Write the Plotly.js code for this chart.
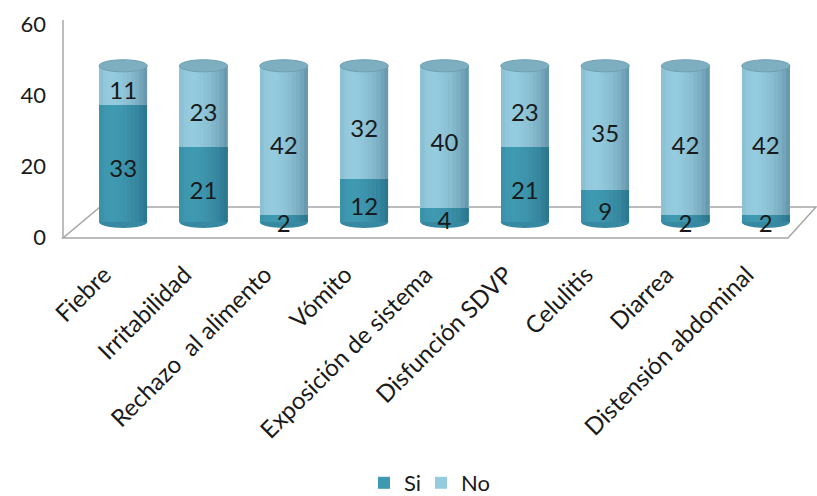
<!DOCTYPE html>
<html>
<head>
<meta charset="utf-8">
<script src="https://cdn.plot.ly/plotly-3.0.1.min.js"></script>
<style>html,body{margin:0;padding:0;background:#fff;}#chart{width:817px;height:496px;}</style>
</head>
<body>
<div id="chart"></div>
<script>
const categories = ["Fiebre", "Irritabilidad", "Rechazo  al alimento", "Vómito", "Exposición de sistema", "Disfunción SDVP", "Celulitis", "Diarrea", "Distensión abdominal"];
const siValues = [33, 21, 2, 12, 4, 21, 9, 2, 2];
const noValues = [11, 23, 42, 32, 40, 23, 35, 42, 42];
const yTicks = [0, 20, 40, 60];

const siColor = "#3F99B1";
const noColor = "#95CBDE";
const font = "Lato, 'Open Sans', sans-serif";
const txt = "#1a1a1a";

// plot geometry (pixels)
const L = 83, R = 806, T = 5, B = 245, W = 817, H = 496;
const k = 3.55; // px per unit
const rng = zeroPx => [-(B - zeroPx) / k, (zeroPx - T) / k];

const traces = [
  {type: "bar", name: "Si", x: categories, y: siValues, marker: {color: siColor}, hoverinfo: "x+y"},
  {type: "bar", name: "No", x: categories, y: noValues, marker: {color: noColor}, hoverinfo: "x+y"},
  {type: "scatter", mode: "text", x: categories, y: siValues.map(v => v / 2), yaxis: "y3",
   text: siValues.map(String), textposition: "middle center", showlegend: false,
   textfont: {family: font, size: 24, color: txt}, hoverinfo: "skip"},
  {type: "scatter", mode: "text", x: categories, y: noValues.map((v, i) => siValues[i] + v / 2), yaxis: "y3",
   text: noValues.map(String), textposition: "middle center", showlegend: false,
   textfont: {family: font, size: 24, color: txt}, hoverinfo: "skip"},
  // invisible trace: makes the tick axis (yaxis2) draw and pads the legend so "No" is not clipped
  {type: "scatter", mode: "none", name: "\u00a0", x: [categories[0]], y: [0], yaxis: "y2", showlegend: true, hoverinfo: "skip"}
];

const px = v => (v - L) / (R - L);
const py = v => (B - v) / (B - T);
const grey = "#A6A6A6";

const shapes = [
  {type: "line", xref: "paper", yref: "paper", x0: px(63), x1: px(63), y0: py(20), y1: py(238), line: {color: grey, width: 1.5}, layer: "below"},
  {type: "path", xref: "paper", yref: "paper", layer: "below",
   path: `M ${px(63)},${py(238)} L ${px(788)},${py(238)} L ${px(816)},${py(207)} L ${px(100)},${py(207)} Z`,
   line: {color: grey, width: 1.5}, fillcolor: "rgba(0,0,0,0)"}
];
const half = 0.3, capH = 1.7, N = 12;
categories.forEach((c, i) => {
  const total = siValues[i] + noValues[i];
  shapes.push({type: "circle", xref: "x", yref: "y", x0: i - half, x1: i + half, y0: -capH, y1: capH,
    fillcolor: "#3689A0", line: {width: 0}, layer: "below"});
  for (let s = 0; s < N; s++) {
    const t = -1 + (2 * s + 1) / N;
    const inten = Math.max(0, Math.cos(Math.asin(t) + 0.5));
    const a = 0.32 * (1 - inten);
    shapes.push({type: "rect", xref: "x", yref: "y", x0: i - half + s * 2 * half / N, x1: i - half + (s + 1) * 2 * half / N,
      y0: 0, y1: total, fillcolor: `rgba(10,50,70,${a.toFixed(3)})`, line: {width: 0}, layer: "above"});
  }
  shapes.push({type: "circle", xref: "x", yref: "y", x0: i - half, x1: i + half, y0: total - capH, y1: total + capH,
    fillcolor: "#7DAFC1", line: {color: "#6C9FB2", width: 1}, layer: "above"});
});

const layout = {
  width: W, height: H,
  margin: {l: L, r: W - R, t: T, b: H - B},
  paper_bgcolor: "#fff", plot_bgcolor: "rgba(0,0,0,0)",
  barmode: "stack", bargap: 0.4,
  font: {family: font, size: 22, color: txt},
  xaxis: {type: "category", tickangle: -45, showgrid: false, zeroline: false, showline: false,
    ticklabelstandoff: 10, ticklabelshift: -19, automargin: false,
    tickfont: {family: font, size: 24, color: txt}, fixedrange: true},
  yaxis: {range: rng(222), showticklabels: false, showgrid: false, zeroline: false, showline: false, fixedrange: true},
  yaxis2: {range: rng(237), overlaying: "y", side: "left", tickvals: yTicks, ticktext: yTicks.map(String),
    showgrid: false, zeroline: false, showline: false, ticklabelstandoff: 36,
    tickfont: {family: font, size: 22, color: txt}, fixedrange: true},
  yaxis3: {range: rng(230), overlaying: "y", showticklabels: false, showgrid: false, zeroline: false, showline: false, fixedrange: true},
  legend: {orientation: "h", xref: "container", yref: "container", x: 364 / W, xanchor: "left",
    y: (H - 483) / H, yanchor: "middle", font: {family: font, size: 22, color: txt}, entrywidth: 12, traceorder: "normal"},
  showlegend: true,
  shapes: shapes
};

Plotly.newPlot("chart", traces, layout, {displayModeBar: false, staticPlot: true});
</script>
</body>
</html>
